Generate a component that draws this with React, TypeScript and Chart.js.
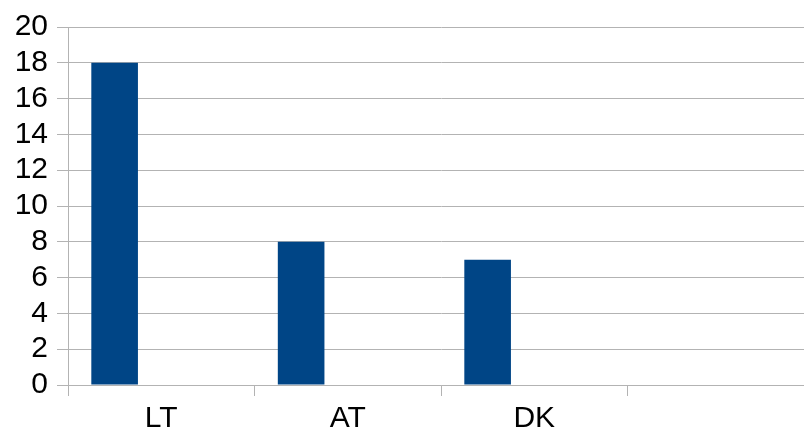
import React, { useEffect, useRef } from "react";
import { Chart, registerables } from "chart.js";

Chart.register(...registerables);

const categories = ["LT", "AT", "DK", ""];
const seriesA = [18, 8, 7, null];
const seriesB = [null, null, null, null];
const yTicks = [0, 2, 4, 6, 8, 10, 12, 14, 16, 18, 20];

const FONT = '"Liberation Sans Narrow", "Liberation Sans", Arial, sans-serif';

export default function App() {
  const ref = useRef<HTMLCanvasElement | null>(null);
  useEffect(() => {
    if (!ref.current) return;
    const chart = new Chart(ref.current, {
      type: "bar",
      data: {
        labels: categories,
        datasets: [
          { data: seriesA, backgroundColor: "#004586", borderWidth: 0 },
          { data: seriesB, backgroundColor: "#ff420e", borderWidth: 0 },
        ],
      },
      options: {
        animation: false,
        responsive: true,
        maintainAspectRatio: false,
        layout: { padding: { top: 5, right: 0, left: 0, bottom: 0 } },
        plugins: { legend: { display: false }, tooltip: { enabled: false } },
        datasets: { bar: { categoryPercentage: 1, barPercentage: 0.5 } },
        scales: {
          x: {
            afterFit: (s: any) => {
              s.height = 46;
            },
            grid: {
              offset: true,
              drawOnChartArea: false,
              drawTicks: true,
              tickLength: 11,
              color: "#b3b3b3",
            },
            border: { display: true, color: "#b3b3b3" },
            ticks: { color: "#000", font: { family: FONT, size: 30, lineHeight: 1 }, padding: 8, maxRotation: 0, autoSkip: false },
          },
          y: {
            min: 0,
            max: 20,
            afterFit: (s: any) => {
              s.width = 68;
            },
            afterBuildTicks: (axis: any) => {
              axis.ticks = yTicks.map((v) => ({ value: v }));
            },
            grid: { color: "#b3b3b3", tickLength: 11, drawTicks: true },
            border: { display: true, color: "#b3b3b3" },
            ticks: { color: "#000", font: { family: FONT, size: 30 }, padding: 9, autoSkip: false },
          },
        },
      },
    });
    return () => chart.destroy();
  }, []);
  return (
    <div style={{ position: "absolute", left: 0, top: 0, width: 804, height: 431, overflow: "hidden", background: "#fff" }}>
      <div style={{ position: "relative", width: 814, height: 431 }}>
        <canvas ref={ref} />
      </div>
    </div>
  );
}
